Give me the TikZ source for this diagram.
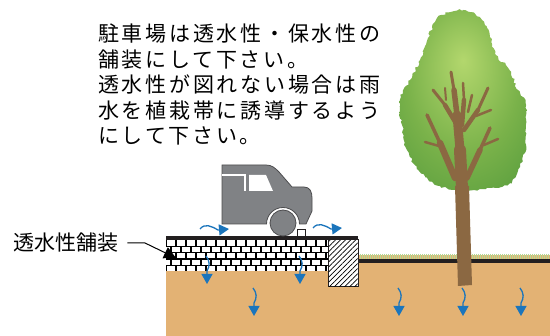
\documentclass[tikz,border=0pt]{standalone}
\usepackage{fontspec}
\setmainfont{Noto Sans CJK JP}
\newfontfamily\notefont[LetterSpace=13]{Noto Sans CJK JP}
\usetikzlibrary{arrows.meta,patterns.meta,decorations.pathmorphing}

\definecolor{soil}{HTML}{E3B274}
\definecolor{water}{HTML}{1B75BC}
\definecolor{carbody}{HTML}{808285}
\definecolor{caredge}{HTML}{4D4D4F}
\definecolor{bark}{HTML}{8B6842}
\definecolor{leaflight}{HTML}{B3D76D}
\definecolor{leafmid}{HTML}{7AB24A}
\definecolor{leafdark}{HTML}{4A9438}
\definecolor{grass}{HTML}{B5D995}
\definecolor{ground}{HTML}{231F20}

% light spot a little above the middle of the crown
\pgfdeclareradialshading{crownglow}{\pgfpoint{0bp}{11bp}}{%
  color(0bp)=(leaflight); color(22bp)=(leafmid); color(45bp)=(leafdark); color(60bp)=(leafdark)}

\tikzset{
  flow/.style={water, line width=1.3pt, -{Triangle[width=11pt,length=10pt]}},
  seep/.pic={\draw[flow] (0,0) .. controls (4,5) and (4,10) .. (1,15) -- (1,28);},
  runoff/.pic={\draw[flow] (0,0) .. controls (5,-6) and (11,-3) .. (18,1) -- (29,0);},
  branch/.style={bark, line cap=round, line join=round},
  leader/.style={black, line width=1pt, -{Triangle[width=12pt,length=12pt]}},
}

\begin{document}
\begin{tikzpicture}[x=1pt, y=-1pt]
	\useasboundingbox (0,0) rectangle (550,336);
	\fill[white] (0,0) rectangle (550,336);

	% ground
	\fill[soil] (166,255) rectangle (550,336);
	\foreach \g in {358.5,360.5,...,550} \draw[grass, line width=0.9pt] (\g,254) -- (\g,259);
	\fill[ground] (358,259) rectangle (550,263);

	% permeable paving
	\begin{scope}
		\clip (166,240) rectangle (328,271);
		\fill[white] (166,240) rectangle (328,271);
		\foreach \r in {0,...,4} {
			\draw[line width=1.4pt] (166,{240+6.4*(\r+1)}) -- (328,{240+6.4*(\r+1)});
			\pgfmathsetmacro\off{mod(\r,2)*5}
			\foreach \c in {0,...,16}
				\draw[line width=1.1pt] ({166+\off+10*\c},{240+6.4*\r}) -- ++(0,6.4);
		}
	\end{scope}
	\filldraw[fill=white, draw=ground, line width=1pt] (328,240) rectangle (358,287);
	\fill[pattern={Lines[angle=45, distance=3.6pt, line width=0.7pt]}] (328.5,240) rectangle (357.5,286.5);
	\fill[ground] (166,236) rectangle (358,240);

	% car
	\filldraw[fill=carbody, draw=caredge, line width=0.8pt]
		(222,224) -- (222,165) -- (266,165) .. controls (272,165) and (275,168) .. (279,172)
		-- (292,187) -- (304,187) .. controls (310,187) and (312,192) .. (312,198)
		-- (312,211) -- (306,224) -- (299.5,224) arc[start angle=0, end angle=-180, radius=16.5] -- cycle;
	\draw[white, line width=1.6pt] (222,175) -- (245,175) -- (245,191);
	\fill[white] (249,175) -- (266,175) -- (273,191) -- (249,191) -- cycle;
	\filldraw[fill=carbody, draw=caredge, line width=0.8pt] (283,223) circle[radius=13];
	\filldraw[fill=white, draw=ground, line width=0.8pt] (297,229) rectangle (305,236);

	% water
	\pic at (200,229) {runoff};
	\pic at (313,228) {runoff};
	\foreach \sx/\sy in {206/256, 299/256, 253/288, 398/288, 462/288, 520/288}
		\pic at (\sx,\sy) {seep};

	% tree
	\pgfmathsetseed{7}
	\shade[shading=crownglow, decorate, decoration={random steps, segment length=2.5pt, amplitude=1.2pt}]
		plot[smooth cycle, tension=0.6] coordinates {(442,15) (463,10) (482,20) (490,37) (496,55)
		(508,68) (518,90) (526,105) (526,127) (526,145) (520,167) (510,183) (490,188) (465,190)
		(440,186) (420,172) (407,150) (402,125) (400,100) (410,80) (420,60) (428,38) (435,22)};
	\fill[bark] (455,186) -- (469,186) -- (472,285) -- (458,286) -- cycle;
	\draw[branch, line width=12pt] (462,188) -- (460,150);
	\draw[branch, line width=9pt] (460,150) -- (457,115);
	\draw[branch, line width=5.5pt] (457,115) -- (454,90);
	\draw[branch, line width=3pt] (454,90) -- (451,72);
	\draw[branch, line width=6.5pt] (455,178) -- (440,143);
	\draw[branch, line width=3.5pt] (440,143) -- (427,115);
	\draw[branch, line width=2.5pt] (439,146) -- (425,142);
	\draw[branch, line width=4.5pt] (457,125) -- (445,105);
	\draw[branch, line width=3pt] (445,105) -- (433,90);
	\draw[branch, line width=2pt] (446,100) -- (445,88);
	\draw[branch, line width=4.5pt] (462,125) -- (464,100);
	\draw[branch, line width=2.5pt] (464,100) -- (463,83);
	\draw[branch, line width=2.5pt] (468,112) -- (472,95);
	\draw[branch, line width=4.5pt] (464,130) -- (478,110);
	\draw[branch, line width=3pt] (478,110) -- (488,88);
	\draw[branch, line width=2.5pt] (476,116) -- (491,110);
	\draw[branch, line width=5.5pt] (467,178) -- (480,150);
	\draw[branch, line width=3.5pt] (480,150) -- (490,128);
	\draw[branch, line width=2.5pt] (484,145) -- (498,139);

	% texts
	\node[anchor=north west, inner sep=0, align=left, font={\notefont\fontsize{21pt}{25.5pt}\selectfont}] (notice) at (98,24)
		{駐車場は透水性・保水性の\\舗装にして下さい。\\透水性が図れない場合は雨\\水を植栽帯に誘導するよう\\にして下さい。};
	\node[anchor=west, inner sep=0, font={\fontsize{21pt}{24pt}\selectfont}] (paving) at (13,243) {透水性舗装};
	\coordinate (kink) at (145,243);
	\coordinate (tip) at (176,258);
	\draw[leader] ([xshift=9pt]paving.east) -- (kink) -- (tip);
\end{tikzpicture}
\end{document}
